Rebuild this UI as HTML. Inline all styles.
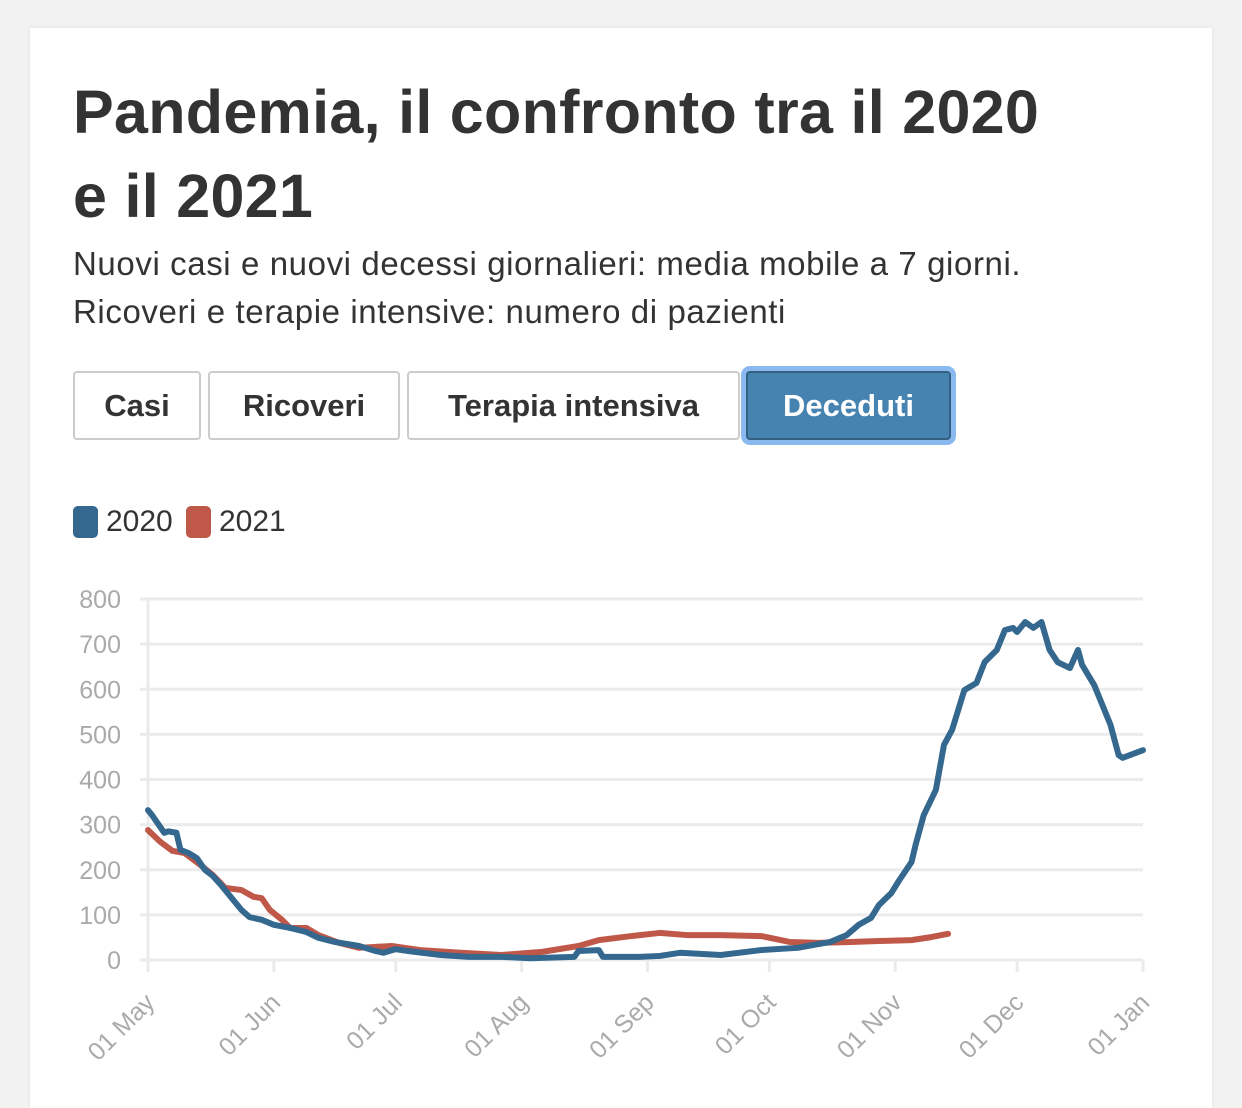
<!DOCTYPE html>
<html><head><meta charset="utf-8"><style>
body{margin:0;background:#f2f2f2;width:1242px;height:1093px;overflow:hidden;font-family:"Liberation Sans",sans-serif;}
.card{position:absolute;left:30px;top:28px;width:1182px;height:1080px;background:#fff;box-shadow:0 0 4px rgba(0,0,0,.08);}
h1{position:absolute;left:43px;top:42px;margin:0;font-size:61px;line-height:84px;color:#333;font-weight:bold;letter-spacing:0.3px;width:1140px;white-space:nowrap;}
.sub{position:absolute;left:43px;top:212px;font-size:33px;line-height:48px;color:#333;width:1140px;white-space:nowrap;letter-spacing:0.6px;}
.btn{position:absolute;top:343px;height:69px;border:2px solid #ccc;border-radius:4px;box-sizing:border-box;font-size:31px;font-weight:bold;color:#333;display:flex;align-items:center;justify-content:center;background:#fff;}
.btn.active{background:#4683b0;color:#fff;border-color:#335f80;box-shadow:0 0 0 5px #8ab9f0;}
.leg{position:absolute;top:477px;font-size:30px;color:#333;display:flex;align-items:center;}
.sw{width:25px;height:32px;border-radius:5px;margin-right:8px;}
</style></head><body>
<div class="card">
<h1>Pandemia, il confronto tra il 2020<br>e il 2021</h1>
<div class="sub">Nuovi casi e nuovi decessi giornalieri: media mobile a 7 giorni.<br>Ricoveri e terapie intensive: numero di pazienti</div>
<div class="btn" style="left:43px;width:128px">Casi</div>
<div class="btn" style="left:178px;width:192px">Ricoveri</div>
<div class="btn" style="left:377px;width:333px">Terapia intensiva</div>
<div class="btn active" style="left:716px;width:205px">Deceduti</div>
<div class="leg" style="left:43px"><div class="sw" style="background:#35688f"></div>2020</div>
<div class="leg" style="left:156px"><div class="sw" style="background:#c0584a"></div>2021</div>
</div>
<svg id="chart" width="1242" height="1093" style="position:absolute;left:0;top:0"></svg>
<script>
const yTicks=[0,100,200,300,400,500,600,700,800];
const xTickDays=[0,31,61,92,123,153,184,214,245];
const xTickLabels=["01 May","01 Jun","01 Jul","01 Aug","01 Sep","01 Oct","01 Nov","01 Dec","01 Jan"];
const days2020=[0,1,4,5,7,8,10,12,14,16,18,21,23,25,28,31,35,39,42,46,52,56,58,61,64,72,79,87,94,105,106,111,112,121,126,131,141,151,160,168,172,175,178,180,183,185,188,189,191,194,196,198,201,204,206,209,211,213,214,216,218,220,222,224,227,229,230,233,235,237,239,240,245];
const values2020=[332,321,282,285,282,244,237,226,200,186,166,133,111,95,89,78,71,62,49,40,31,20,16,24,20,11,7,7,4,7,20,22,7,7,9,16,11,22,27,40,55,78,93,122,148,177,217,255,321,377,477,510,598,614,660,687,731,736,727,749,736,749,687,660,647,687,654,609,565,521,454,448,465];
const days2021=[0,3,6,9,13,16,19,23,26,28,30,33,35,39,42,47,52,60,67,77,87,97,106,111,119,126,133,141,151,158,165,173,180,188,193,197];
const values2021=[288,262,242,237,210,188,160,155,140,137,111,89,71,71,55,38,27,31,22,16,11,18,31,44,53,60,55,55,53,40,38,40,42,44,51,58];
const svg=document.getElementById('chart');const NS='http://www.w3.org/2000/svg';
const x0=148,x1=1143,y0=960,y1=599,dMax=245,vMax=800;
const X=d=>x0+(x1-x0)*d/dMax, Y=v=>y0-(y0-y1)*v/vMax;
function mk(t,a){const e=document.createElementNS(NS,t);for(const k in a)e.setAttribute(k,a[k]);svg.appendChild(e);return e;}
yTicks.forEach(v=>{
 const l=mk('line',{x1:x0-8,x2:x1,y1:Y(v),y2:Y(v),stroke:'#ebebeb','stroke-width':3});
 
 
 const t=mk('text',{x:x0-27,y:Y(v)+9,'text-anchor':'end','font-size':25,fill:'#aaa','font-family':'Liberation Sans, sans-serif'});
 t.textContent=v;
 
 
});
const ax=mk('line',{x1:x0,x2:x0,y1:y1,y2:y0+10,stroke:'#ebebeb','stroke-width':3});


xTickDays.forEach((d,i)=>{
 const l=mk('line',{x1:X(d),x2:X(d),y1:y0,y2:y0+12,stroke:'#ebebeb','stroke-width':3});
 
 
 const t=mk('text',{x:X(d)+8,y:y0+44,'text-anchor':'end','font-size':25,fill:'#aaa','font-family':'Liberation Sans, sans-serif',transform:`rotate(-45 ${X(d)+8} ${y0+44})`});
 t.textContent=xTickLabels[i];
 
 
});
function line(ds,vs,c,n){
 const p=mk('polyline',{points:ds.map((d,i)=>X(d)+','+Y(vs[i])).join(' '),fill:'none',stroke:c,'stroke-width':6,'stroke-linejoin':'round','stroke-linecap':'round'});
 
 
}
line(days2021,values2021,'#c0584a','line-2021');
line(days2020,values2020,'#35688f','line-2020');
</script>
</body></html>
